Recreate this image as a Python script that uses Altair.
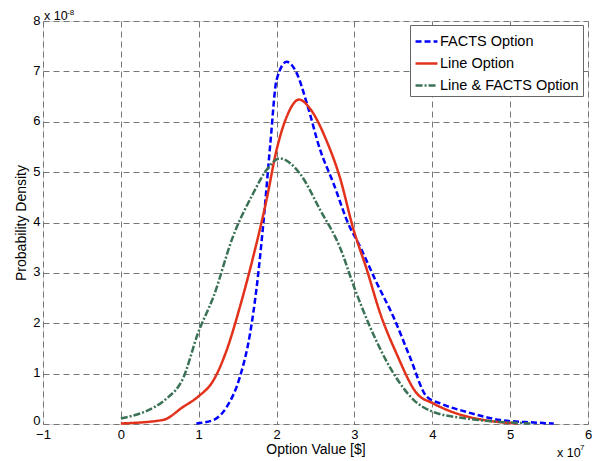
import altair as alt
import pandas as pd

# x in units of 1e7 $, y in units of 1e-8
facts_x = [0.97, 1.19, 1.36, 1.53, 1.66, 1.74, 1.83, 1.92, 2.00, 2.13, 2.26, 2.39, 2.56, 2.73, 2.94, 3.03, 3.29, 3.50, 3.71, 3.93, 4.10, 4.44, 4.87, 5.30, 5.56]
facts_y = [0.01, 0.08, 0.34, 0.94, 1.80, 2.66, 3.98, 5.57, 6.83, 7.19, 6.96, 6.36, 5.44, 4.78, 3.91, 3.65, 2.79, 2.13, 1.34, 0.54, 0.41, 0.24, 0.08, 0.03, 0.01]

line_x = [0.00, 0.54, 0.80, 0.99, 1.19, 1.36, 1.53, 1.70, 1.87, 2.00, 2.13, 2.29, 2.43, 2.64, 2.81, 2.99, 3.16, 3.33, 3.54, 3.80, 4.01, 4.31, 4.66, 5.09]
line_y = [0.01, 0.08, 0.34, 0.54, 0.87, 1.47, 2.33, 3.32, 4.44, 5.44, 6.10, 6.44, 6.26, 5.63, 4.91, 3.85, 3.06, 2.20, 1.40, 0.61, 0.41, 0.21, 0.08, 0.01]

both_x = [0.00, 0.59, 0.80, 0.99, 1.19, 1.44, 1.70, 1.87, 2.04, 2.30, 2.56, 2.81, 3.01, 3.20, 3.50, 3.76, 4.01, 4.44, 5.00, 5.26]
both_y = [0.11, 0.51, 0.91, 1.80, 2.53, 3.72, 4.58, 5.04, 5.27, 4.97, 4.25, 3.52, 2.66, 1.93, 1.01, 0.48, 0.24, 0.11, 0.03, 0.01]

series_names = ["FACTS Option", "Line Option", "Line & FACTS Option"]
series_colors = ["#0000ff", "#e3321b", "#3b7256"]
series_dash = [[6, 3], [1, 0], [7, 2, 2, 2]]
series_width = [2.5, 2.5, 3.2]
x_ticks = [-1, 0, 1, 2, 3, 4, 5, 6]
y_ticks = [0, 1, 2, 3, 4, 5, 6, 7, 8]

rows = []
for name, xs, ys in zip(series_names, [facts_x, line_x, both_x], [facts_y, line_y, both_y]):
    for i, (a, b) in enumerate(zip(xs, ys)):
        rows.append({"series": name, "x": a, "y": b, "order": i})
df = pd.DataFrame(rows)

W, H = 545, 403
font = "Liberation Sans"

xscale = alt.Scale(domain=[-1, 6], nice=False, zero=False)
yscale = alt.Scale(domain=[0, 8], nice=False)

common_axis = dict(grid=True, gridDash=[6, 4], gridColor="#777", gridOpacity=1,
                   ticks=False, labelOverlap=False, labelFlush=False, domain=False, format="d",
                   labelFont=font, labelFontSize=13, labelColor="#000",
                   titleFont=font, titleFontSize=14, titleFontWeight="normal", titleColor="#000")

legend_kw = dict(title=None, orient="none", legendX=367, legendY=4,
                 symbolType="stroke", symbolSize=480, symbolStrokeWidth=2.5,
                 labelFont=font, labelFontSize=14.5, labelColor="#000",
                 strokeColor="#666", fillColor="white", padding=4,
                 rowPadding=3, labelOffset=1)

lines = alt.Chart(df).mark_line(interpolate="monotone").encode(
    x=alt.X("x:Q", scale=xscale,
            axis=alt.Axis(values=x_ticks, title="Option Value [$]", labelPadding=4,
                          titlePadding=1, **common_axis)),
    y=alt.Y("y:Q", scale=yscale,
            axis=alt.Axis(values=y_ticks, title="Probability Density", labelPadding=3,
                          labelOffset={"condition": {"test": "datum.value === 0", "value": -4},
                                       "value": -1},
                          titlePadding=4, **common_axis)),
    color=alt.Color("series:N", scale=alt.Scale(domain=series_names, range=series_colors),
                    legend=alt.Legend(**legend_kw)),
    strokeDash=alt.StrokeDash("series:N", scale=alt.Scale(domain=series_names, range=series_dash),
                              legend=alt.Legend(**legend_kw)),
    strokeWidth=alt.StrokeWidth("series:N", scale=alt.Scale(domain=series_names, range=series_width),
                                legend=None),
    order="order:Q",
)

label_text = ["x 10", "-8", "x 10", "7"]
label_px = [1, 24, 514, 537]
label_py = [-1, -6, 436, 429]
label_fs = [12.5, 8, 12.5, 8]

def txt(i):
    return alt.Chart(pd.DataFrame({"t": [label_text[i]]})).mark_text(
        align="left", baseline="alphabetic", font=font, fontSize=label_fs[i], color="#000"
    ).encode(text="t:N", x=alt.value(label_px[i]), y=alt.value(label_py[i]))

chart = alt.layer(lines, txt(0), txt(1), txt(2), txt(3)).properties(
    width=W, height=H,
    autosize=alt.AutoSizeParams(type="none"),
    padding={"left": 35, "top": 13, "right": 7, "bottom": 42},
).configure_view(stroke="#555", strokeWidth=1.2).configure(background="white")

chart.save("out.html", embed_options={"renderer": "svg", "actions": False})
